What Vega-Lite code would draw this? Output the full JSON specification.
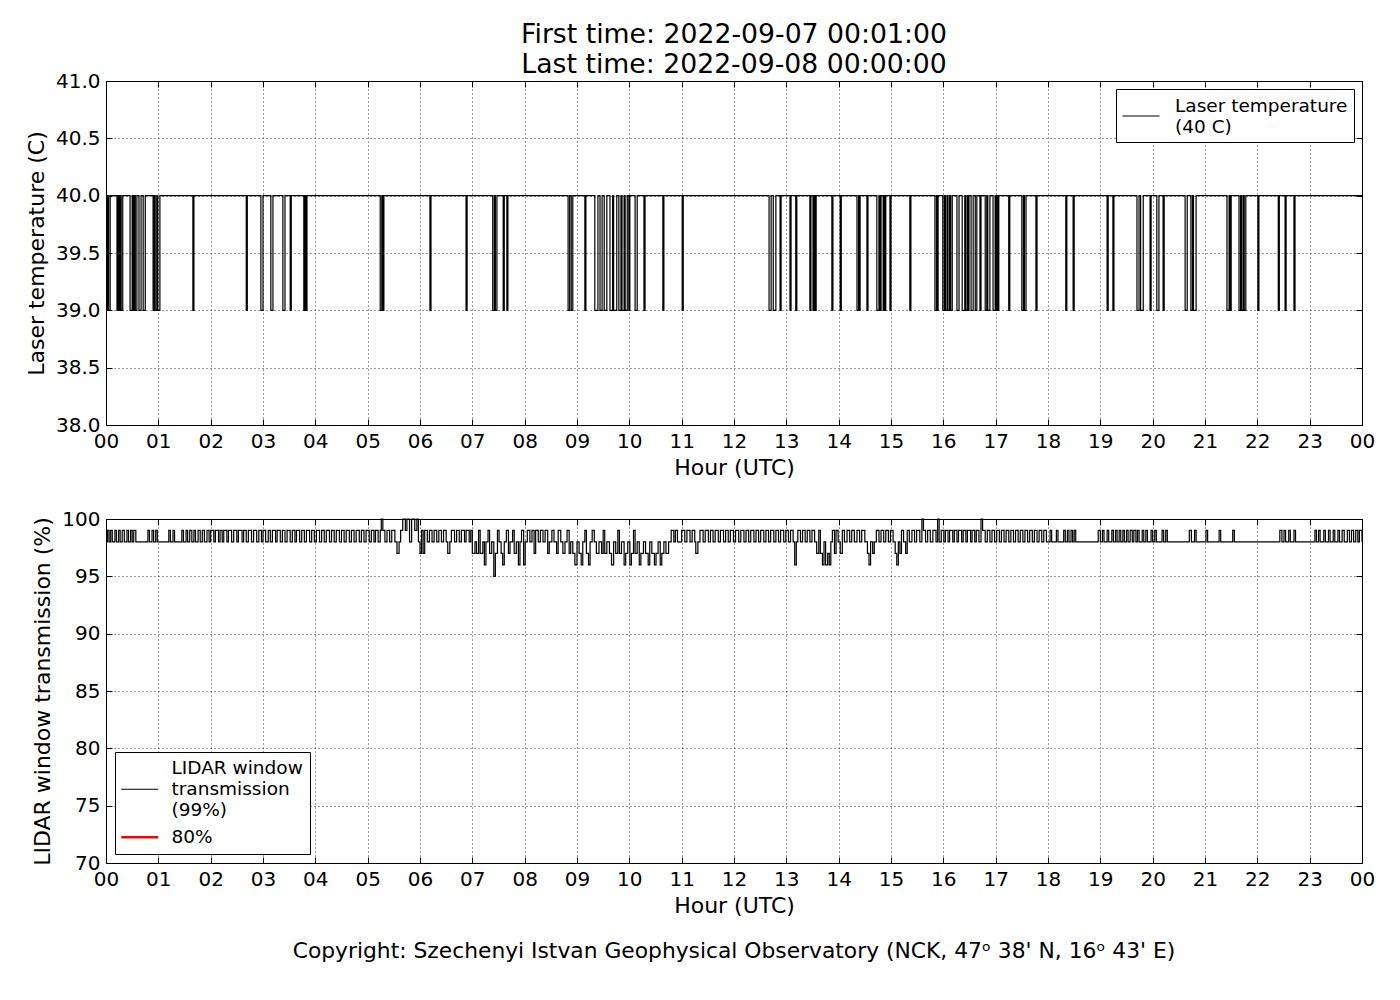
{
  "$schema": "https://vega.github.io/schema/vega-lite/v6.json",
  "description": "Laser temperature and LIDAR window transmission, 2022-09-07",
  "background": "white",
  "padding": {"left": 24, "top": 21, "right": 30, "bottom": 10},
  "config": {
    "font": "DejaVu Sans",
    "view": {"stroke": "black", "strokeWidth": 1},
    "axis": {
      "domain": false,
      "labelFontSize": 20,
      "labelColor": "black",
      "titleFontSize": 22,
      "titleFontWeight": "normal",
      "titleColor": "black",
      "tickColor": "black",
      "tickSize": -6,
      "grid": true,
      "gridColor": "black",
      "gridDash": [1, 3],
      "gridOpacity": 0.8
    },
    "legend": {
      "title": null,
      "labelFontSize": 18.5,
      "labelColor": "black",
      "labelLimit": 0,
      "symbolType": "M-1,0H2.7",
      "symbolSize": 400,
      "symbolStrokeWidth": 1,
      "strokeColor": "black",
      "fillColor": "white",
      "padding": 6,
      "cornerRadius": 0,
      "direction": "vertical"
    },
    "title": {"fontWeight": "normal", "color": "black"}
  },
  "resolve": {"scale": {"color": "independent"}, "legend": {"color": "independent"}},
  "datasets": {
    "temp": [
      {"h": 0, "v": 40},
      {"h": 0.02, "v": 39}, {"h": 0.04, "v": 40}, {"h": 0.05, "v": 39}, {"h": 0.08, "v": 40},
      {"h": 0.21, "v": 39}, {"h": 0.23, "v": 40}, {"h": 0.25, "v": 39}, {"h": 0.27, "v": 40},
      {"h": 0.29, "v": 39}, {"h": 0.32, "v": 40}, {"h": 0.46, "v": 39}, {"h": 0.50, "v": 40},
      {"h": 0.52, "v": 39}, {"h": 0.54, "v": 40}, {"h": 0.56, "v": 39}, {"h": 0.59, "v": 40},
      {"h": 0.63, "v": 39}, {"h": 0.67, "v": 40}, {"h": 0.71, "v": 39}, {"h": 0.75, "v": 40},
      {"h": 0.90, "v": 39}, {"h": 0.92, "v": 40}, {"h": 0.94, "v": 39}, {"h": 0.97, "v": 40},
      {"h": 0.99, "v": 39}, {"h": 1.03, "v": 40}, {"h": 1.66, "v": 39}, {"h": 1.68, "v": 40},
      {"h": 2.68, "v": 39}, {"h": 2.70, "v": 40}, {"h": 2.96, "v": 39}, {"h": 3.00, "v": 40},
      {"h": 3.15, "v": 39}, {"h": 3.19, "v": 40}, {"h": 3.38, "v": 39}, {"h": 3.42, "v": 40},
      {"h": 3.52, "v": 39}, {"h": 3.54, "v": 40}, {"h": 3.78, "v": 39}, {"h": 3.80, "v": 40},
      {"h": 3.82, "v": 39}, {"h": 3.84, "v": 40}, {"h": 5.24, "v": 39}, {"h": 5.27, "v": 40},
      {"h": 5.29, "v": 39}, {"h": 5.31, "v": 40}, {"h": 6.19, "v": 39}, {"h": 6.21, "v": 40},
      {"h": 6.88, "v": 39}, {"h": 6.90, "v": 40}, {"h": 7.39, "v": 39}, {"h": 7.42, "v": 40},
      {"h": 7.44, "v": 39}, {"h": 7.47, "v": 40}, {"h": 7.59, "v": 39}, {"h": 7.61, "v": 40},
      {"h": 7.66, "v": 39}, {"h": 7.68, "v": 40}, {"h": 8.83, "v": 39}, {"h": 8.86, "v": 40},
      {"h": 8.89, "v": 39}, {"h": 8.92, "v": 40}, {"h": 9.15, "v": 39}, {"h": 9.17, "v": 40},
      {"h": 9.34, "v": 39}, {"h": 9.40, "v": 40}, {"h": 9.44, "v": 39}, {"h": 9.48, "v": 40},
      {"h": 9.52, "v": 39}, {"h": 9.57, "v": 40}, {"h": 9.63, "v": 39}, {"h": 9.68, "v": 40},
      {"h": 9.70, "v": 39}, {"h": 9.76, "v": 40}, {"h": 9.80, "v": 39}, {"h": 9.84, "v": 40},
      {"h": 9.86, "v": 39}, {"h": 9.90, "v": 40}, {"h": 9.92, "v": 39}, {"h": 9.96, "v": 40},
      {"h": 9.99, "v": 39}, {"h": 10.01, "v": 40}, {"h": 10.11, "v": 39}, {"h": 10.15, "v": 40},
      {"h": 10.28, "v": 39}, {"h": 10.30, "v": 40}, {"h": 10.64, "v": 39}, {"h": 10.66, "v": 40},
      {"h": 11.01, "v": 39}, {"h": 11.03, "v": 40}, {"h": 12.67, "v": 39}, {"h": 12.71, "v": 40},
      {"h": 12.75, "v": 39}, {"h": 12.80, "v": 40}, {"h": 12.88, "v": 39}, {"h": 12.90, "v": 40},
      {"h": 13.07, "v": 39}, {"h": 13.09, "v": 40}, {"h": 13.18, "v": 39}, {"h": 13.20, "v": 40},
      {"h": 13.45, "v": 39}, {"h": 13.47, "v": 40}, {"h": 13.51, "v": 39}, {"h": 13.53, "v": 40},
      {"h": 13.55, "v": 39}, {"h": 13.57, "v": 40}, {"h": 13.87, "v": 39}, {"h": 13.89, "v": 40},
      {"h": 14.03, "v": 39}, {"h": 14.05, "v": 40}, {"h": 14.35, "v": 39}, {"h": 14.38, "v": 40},
      {"h": 14.39, "v": 39}, {"h": 14.41, "v": 40}, {"h": 14.54, "v": 39}, {"h": 14.56, "v": 40},
      {"h": 14.73, "v": 39}, {"h": 14.77, "v": 40}, {"h": 14.79, "v": 39}, {"h": 14.81, "v": 40},
      {"h": 14.85, "v": 39}, {"h": 14.87, "v": 40}, {"h": 14.88, "v": 39}, {"h": 14.90, "v": 40},
      {"h": 14.98, "v": 39}, {"h": 15.00, "v": 40}, {"h": 15.36, "v": 39}, {"h": 15.38, "v": 40},
      {"h": 15.84, "v": 39}, {"h": 15.87, "v": 40}, {"h": 15.88, "v": 39}, {"h": 15.90, "v": 40},
      {"h": 15.99, "v": 39}, {"h": 16.02, "v": 40}, {"h": 16.04, "v": 39}, {"h": 16.07, "v": 40},
      {"h": 16.09, "v": 39}, {"h": 16.12, "v": 40}, {"h": 16.14, "v": 39}, {"h": 16.17, "v": 40},
      {"h": 16.26, "v": 39}, {"h": 16.30, "v": 40}, {"h": 16.36, "v": 39}, {"h": 16.41, "v": 40},
      {"h": 16.43, "v": 39}, {"h": 16.46, "v": 40}, {"h": 16.47, "v": 39}, {"h": 16.49, "v": 40},
      {"h": 16.53, "v": 39}, {"h": 16.57, "v": 40}, {"h": 16.61, "v": 39}, {"h": 16.64, "v": 40},
      {"h": 16.70, "v": 39}, {"h": 16.72, "v": 40}, {"h": 16.80, "v": 39}, {"h": 16.83, "v": 40},
      {"h": 16.85, "v": 39}, {"h": 16.89, "v": 40}, {"h": 16.95, "v": 39}, {"h": 16.99, "v": 40},
      {"h": 17.01, "v": 39}, {"h": 17.03, "v": 40}, {"h": 17.04, "v": 39}, {"h": 17.06, "v": 40},
      {"h": 17.25, "v": 39}, {"h": 17.27, "v": 40}, {"h": 17.50, "v": 39}, {"h": 17.53, "v": 40},
      {"h": 17.55, "v": 39}, {"h": 17.58, "v": 40}, {"h": 17.77, "v": 39}, {"h": 17.79, "v": 40},
      {"h": 18.34, "v": 39}, {"h": 18.36, "v": 40}, {"h": 18.48, "v": 39}, {"h": 18.50, "v": 40},
      {"h": 19.13, "v": 39}, {"h": 19.15, "v": 40}, {"h": 19.24, "v": 39}, {"h": 19.26, "v": 40},
      {"h": 19.70, "v": 39}, {"h": 19.74, "v": 40}, {"h": 19.77, "v": 39}, {"h": 19.82, "v": 40},
      {"h": 19.95, "v": 39}, {"h": 19.97, "v": 40}, {"h": 20.08, "v": 39}, {"h": 20.12, "v": 40},
      {"h": 20.20, "v": 39}, {"h": 20.22, "v": 40}, {"h": 20.62, "v": 39}, {"h": 20.66, "v": 40},
      {"h": 20.73, "v": 39}, {"h": 20.76, "v": 40}, {"h": 20.78, "v": 39}, {"h": 20.83, "v": 40},
      {"h": 21.42, "v": 39}, {"h": 21.46, "v": 40}, {"h": 21.48, "v": 39}, {"h": 21.50, "v": 40},
      {"h": 21.65, "v": 39}, {"h": 21.68, "v": 40}, {"h": 21.70, "v": 39}, {"h": 21.73, "v": 40},
      {"h": 21.75, "v": 39}, {"h": 21.78, "v": 40}, {"h": 22.01, "v": 39}, {"h": 22.03, "v": 40},
      {"h": 22.40, "v": 39}, {"h": 22.42, "v": 40}, {"h": 22.53, "v": 39}, {"h": 22.55, "v": 40},
      {"h": 22.70, "v": 39}, {"h": 22.72, "v": 40}, {"h": 24, "v": 40}
    ],
    "lidar": [
      {"h": 0, "v": 98}, {"h": 0.03, "v": 99}, {"h": 0.06, "v": 98}, {"h": 0.09, "v": 99}, {"h": 0.12, "v": 98},
      {"h": 0.17, "v": 99}, {"h": 0.20, "v": 98}, {"h": 0.24, "v": 99}, {"h": 0.27, "v": 98}, {"h": 0.31, "v": 99},
      {"h": 0.35, "v": 98}, {"h": 0.40, "v": 99}, {"h": 0.43, "v": 98}, {"h": 0.47, "v": 99}, {"h": 0.50, "v": 98},
      {"h": 0.53, "v": 99}, {"h": 0.57, "v": 98}, {"h": 0.80, "v": 99}, {"h": 0.83, "v": 98}, {"h": 0.88, "v": 99},
      {"h": 0.91, "v": 98}, {"h": 0.95, "v": 99}, {"h": 0.98, "v": 98}, {"h": 1.20, "v": 99}, {"h": 1.23, "v": 98},
      {"h": 1.28, "v": 99}, {"h": 1.31, "v": 98}, {"h": 1.45, "v": 99}, {"h": 1.48, "v": 98}, {"h": 1.53, "v": 99},
      {"h": 1.56, "v": 98}, {"h": 1.60, "v": 99}, {"h": 1.64, "v": 98}, {"h": 1.68, "v": 99}, {"h": 1.71, "v": 98},
      {"h": 1.76, "v": 99}, {"h": 1.80, "v": 98}, {"h": 1.84, "v": 99}, {"h": 1.88, "v": 98}, {"h": 1.93, "v": 99},
      {"h": 1.97, "v": 98}, {"h": 2.00, "v": 99}, {"h": 2.06, "v": 98}, {"h": 2.09, "v": 99}, {"h": 2.15, "v": 98},
      {"h": 2.18, "v": 99}, {"h": 2.22, "v": 98}, {"h": 2.25, "v": 99}, {"h": 2.31, "v": 98}, {"h": 2.34, "v": 99},
      {"h": 2.40, "v": 98}, {"h": 2.44, "v": 99}, {"h": 2.50, "v": 98}, {"h": 2.53, "v": 99}, {"h": 2.60, "v": 98},
      {"h": 2.63, "v": 99}, {"h": 2.68, "v": 98}, {"h": 2.72, "v": 99}, {"h": 2.78, "v": 98}, {"h": 2.82, "v": 99},
      {"h": 2.88, "v": 98}, {"h": 2.92, "v": 99}, {"h": 2.97, "v": 98}, {"h": 3.00, "v": 99}, {"h": 3.05, "v": 98},
      {"h": 3.10, "v": 99}, {"h": 3.14, "v": 98}, {"h": 3.18, "v": 99}, {"h": 3.24, "v": 98}, {"h": 3.27, "v": 99},
      {"h": 3.33, "v": 98}, {"h": 3.37, "v": 99}, {"h": 3.42, "v": 98}, {"h": 3.46, "v": 99}, {"h": 3.52, "v": 98},
      {"h": 3.56, "v": 99}, {"h": 3.61, "v": 98}, {"h": 3.64, "v": 99}, {"h": 3.70, "v": 98}, {"h": 3.74, "v": 99},
      {"h": 3.79, "v": 98}, {"h": 3.83, "v": 99}, {"h": 3.89, "v": 98}, {"h": 3.93, "v": 99}, {"h": 3.98, "v": 98},
      {"h": 4.02, "v": 99}, {"h": 4.08, "v": 98}, {"h": 4.12, "v": 99}, {"h": 4.17, "v": 98}, {"h": 4.21, "v": 99},
      {"h": 4.27, "v": 98}, {"h": 4.31, "v": 99}, {"h": 4.36, "v": 98}, {"h": 4.40, "v": 99}, {"h": 4.46, "v": 98},
      {"h": 4.50, "v": 99}, {"h": 4.55, "v": 98}, {"h": 4.59, "v": 99}, {"h": 4.65, "v": 98}, {"h": 4.69, "v": 99},
      {"h": 4.74, "v": 98}, {"h": 4.78, "v": 99}, {"h": 4.84, "v": 98}, {"h": 4.88, "v": 99}, {"h": 4.93, "v": 98},
      {"h": 4.97, "v": 99}, {"h": 5.03, "v": 98}, {"h": 5.07, "v": 99}, {"h": 5.12, "v": 98}, {"h": 5.15, "v": 99},
      {"h": 5.20, "v": 98}, {"h": 5.24, "v": 99}, {"h": 5.26, "v": 100}, {"h": 5.29, "v": 99}, {"h": 5.33, "v": 98},
      {"h": 5.37, "v": 99}, {"h": 5.42, "v": 98}, {"h": 5.46, "v": 99}, {"h": 5.52, "v": 98}, {"h": 5.56, "v": 97},
      {"h": 5.60, "v": 98}, {"h": 5.63, "v": 99}, {"h": 5.67, "v": 100}, {"h": 5.72, "v": 99}, {"h": 5.75, "v": 100},
      {"h": 5.80, "v": 98}, {"h": 5.84, "v": 100}, {"h": 5.90, "v": 99}, {"h": 5.94, "v": 100}, {"h": 5.97, "v": 98},
      {"h": 6.00, "v": 97}, {"h": 6.03, "v": 99}, {"h": 6.06, "v": 97}, {"h": 6.09, "v": 99}, {"h": 6.14, "v": 98},
      {"h": 6.18, "v": 99}, {"h": 6.23, "v": 98}, {"h": 6.27, "v": 99}, {"h": 6.32, "v": 98}, {"h": 6.36, "v": 99},
      {"h": 6.41, "v": 98}, {"h": 6.45, "v": 99}, {"h": 6.50, "v": 98}, {"h": 6.53, "v": 97}, {"h": 6.57, "v": 98},
      {"h": 6.60, "v": 99}, {"h": 6.66, "v": 98}, {"h": 6.70, "v": 99}, {"h": 6.75, "v": 98}, {"h": 6.79, "v": 99},
      {"h": 6.85, "v": 98}, {"h": 6.88, "v": 99}, {"h": 6.94, "v": 98}, {"h": 6.97, "v": 99}, {"h": 7.00, "v": 97},
      {"h": 7.05, "v": 98}, {"h": 7.08, "v": 97}, {"h": 7.12, "v": 99}, {"h": 7.15, "v": 97}, {"h": 7.20, "v": 98},
      {"h": 7.23, "v": 96}, {"h": 7.26, "v": 98}, {"h": 7.30, "v": 99}, {"h": 7.33, "v": 97}, {"h": 7.37, "v": 98},
      {"h": 7.41, "v": 95}, {"h": 7.44, "v": 97}, {"h": 7.48, "v": 99}, {"h": 7.51, "v": 98}, {"h": 7.55, "v": 97},
      {"h": 7.58, "v": 96}, {"h": 7.61, "v": 98}, {"h": 7.65, "v": 99}, {"h": 7.69, "v": 97}, {"h": 7.72, "v": 98},
      {"h": 7.77, "v": 99}, {"h": 7.80, "v": 97}, {"h": 7.84, "v": 98}, {"h": 7.88, "v": 96}, {"h": 7.91, "v": 98},
      {"h": 7.94, "v": 99}, {"h": 7.98, "v": 96}, {"h": 8.01, "v": 98}, {"h": 8.05, "v": 99}, {"h": 8.10, "v": 98},
      {"h": 8.14, "v": 99}, {"h": 8.18, "v": 97}, {"h": 8.21, "v": 99}, {"h": 8.26, "v": 98}, {"h": 8.30, "v": 99},
      {"h": 8.35, "v": 98}, {"h": 8.39, "v": 99}, {"h": 8.44, "v": 97}, {"h": 8.47, "v": 98}, {"h": 8.52, "v": 99},
      {"h": 8.56, "v": 98}, {"h": 8.61, "v": 97}, {"h": 8.64, "v": 99}, {"h": 8.69, "v": 98}, {"h": 8.73, "v": 97},
      {"h": 8.77, "v": 98}, {"h": 8.81, "v": 99}, {"h": 8.85, "v": 97}, {"h": 8.88, "v": 98}, {"h": 8.92, "v": 97},
      {"h": 8.96, "v": 96}, {"h": 9.00, "v": 98}, {"h": 9.04, "v": 97}, {"h": 9.08, "v": 96}, {"h": 9.11, "v": 98},
      {"h": 9.15, "v": 99}, {"h": 9.18, "v": 97}, {"h": 9.22, "v": 96}, {"h": 9.25, "v": 98}, {"h": 9.29, "v": 99},
      {"h": 9.33, "v": 98}, {"h": 9.37, "v": 97}, {"h": 9.42, "v": 98}, {"h": 9.47, "v": 97}, {"h": 9.50, "v": 99},
      {"h": 9.53, "v": 97}, {"h": 9.57, "v": 98}, {"h": 9.62, "v": 97}, {"h": 9.66, "v": 96}, {"h": 9.70, "v": 98},
      {"h": 9.74, "v": 97}, {"h": 9.78, "v": 99}, {"h": 9.81, "v": 97}, {"h": 9.85, "v": 98}, {"h": 9.90, "v": 96},
      {"h": 9.93, "v": 97}, {"h": 9.97, "v": 98}, {"h": 10.01, "v": 96}, {"h": 10.04, "v": 97}, {"h": 10.08, "v": 99},
      {"h": 10.11, "v": 97}, {"h": 10.15, "v": 98}, {"h": 10.19, "v": 96}, {"h": 10.22, "v": 97}, {"h": 10.27, "v": 98},
      {"h": 10.31, "v": 97}, {"h": 10.36, "v": 96}, {"h": 10.39, "v": 98}, {"h": 10.43, "v": 97}, {"h": 10.48, "v": 96},
      {"h": 10.51, "v": 97}, {"h": 10.55, "v": 98}, {"h": 10.59, "v": 96}, {"h": 10.62, "v": 97}, {"h": 10.66, "v": 98},
      {"h": 10.70, "v": 97}, {"h": 10.75, "v": 98}, {"h": 10.80, "v": 99}, {"h": 10.85, "v": 98}, {"h": 10.88, "v": 99},
      {"h": 10.92, "v": 98}, {"h": 11.00, "v": 99}, {"h": 11.06, "v": 98}, {"h": 11.10, "v": 99}, {"h": 11.16, "v": 98},
      {"h": 11.20, "v": 99}, {"h": 11.25, "v": 98}, {"h": 11.27, "v": 97}, {"h": 11.31, "v": 98}, {"h": 11.35, "v": 99},
      {"h": 11.41, "v": 98}, {"h": 11.45, "v": 99}, {"h": 11.51, "v": 98}, {"h": 11.55, "v": 99}, {"h": 11.60, "v": 98},
      {"h": 11.64, "v": 99}, {"h": 11.70, "v": 98}, {"h": 11.74, "v": 99}, {"h": 11.80, "v": 98}, {"h": 11.84, "v": 99},
      {"h": 11.89, "v": 98}, {"h": 11.93, "v": 99}, {"h": 11.99, "v": 98}, {"h": 12.03, "v": 99}, {"h": 12.09, "v": 98},
      {"h": 12.13, "v": 99}, {"h": 12.19, "v": 98}, {"h": 12.23, "v": 99}, {"h": 12.28, "v": 98}, {"h": 12.32, "v": 99},
      {"h": 12.38, "v": 98}, {"h": 12.42, "v": 99}, {"h": 12.47, "v": 98}, {"h": 12.51, "v": 99}, {"h": 12.57, "v": 98},
      {"h": 12.61, "v": 99}, {"h": 12.66, "v": 98}, {"h": 12.70, "v": 99}, {"h": 12.76, "v": 98}, {"h": 12.80, "v": 99},
      {"h": 12.85, "v": 98}, {"h": 12.89, "v": 99}, {"h": 12.95, "v": 98}, {"h": 12.99, "v": 99}, {"h": 13.04, "v": 98},
      {"h": 13.08, "v": 99}, {"h": 13.13, "v": 98}, {"h": 13.16, "v": 96}, {"h": 13.19, "v": 98}, {"h": 13.22, "v": 99},
      {"h": 13.27, "v": 98}, {"h": 13.31, "v": 99}, {"h": 13.36, "v": 98}, {"h": 13.40, "v": 99}, {"h": 13.45, "v": 98},
      {"h": 13.49, "v": 99}, {"h": 13.54, "v": 98}, {"h": 13.58, "v": 97}, {"h": 13.62, "v": 99}, {"h": 13.65, "v": 97},
      {"h": 13.69, "v": 96}, {"h": 13.72, "v": 98}, {"h": 13.75, "v": 96}, {"h": 13.79, "v": 97}, {"h": 13.82, "v": 96},
      {"h": 13.85, "v": 98}, {"h": 13.88, "v": 99}, {"h": 13.92, "v": 97}, {"h": 13.95, "v": 99}, {"h": 13.99, "v": 98},
      {"h": 14.03, "v": 97}, {"h": 14.07, "v": 99}, {"h": 14.11, "v": 98}, {"h": 14.16, "v": 99}, {"h": 14.21, "v": 98},
      {"h": 14.25, "v": 99}, {"h": 14.30, "v": 98}, {"h": 14.35, "v": 99}, {"h": 14.40, "v": 98}, {"h": 14.44, "v": 99},
      {"h": 14.50, "v": 98}, {"h": 14.55, "v": 97}, {"h": 14.58, "v": 96}, {"h": 14.61, "v": 98}, {"h": 14.65, "v": 97},
      {"h": 14.68, "v": 98}, {"h": 14.72, "v": 99}, {"h": 14.77, "v": 98}, {"h": 14.81, "v": 99}, {"h": 14.86, "v": 98},
      {"h": 14.90, "v": 99}, {"h": 14.95, "v": 98}, {"h": 14.99, "v": 99}, {"h": 15.04, "v": 98}, {"h": 15.08, "v": 97},
      {"h": 15.11, "v": 96}, {"h": 15.14, "v": 98}, {"h": 15.17, "v": 97}, {"h": 15.20, "v": 99}, {"h": 15.24, "v": 98},
      {"h": 15.28, "v": 97}, {"h": 15.31, "v": 99}, {"h": 15.35, "v": 98}, {"h": 15.40, "v": 99}, {"h": 15.45, "v": 98},
      {"h": 15.49, "v": 99}, {"h": 15.55, "v": 98}, {"h": 15.59, "v": 100}, {"h": 15.62, "v": 99}, {"h": 15.66, "v": 98},
      {"h": 15.70, "v": 99}, {"h": 15.75, "v": 98}, {"h": 15.80, "v": 99}, {"h": 15.86, "v": 98}, {"h": 15.89, "v": 100},
      {"h": 15.92, "v": 98}, {"h": 15.96, "v": 99}, {"h": 16.01, "v": 98}, {"h": 16.04, "v": 99}, {"h": 16.09, "v": 98},
      {"h": 16.12, "v": 99}, {"h": 16.18, "v": 98}, {"h": 16.21, "v": 99}, {"h": 16.26, "v": 98}, {"h": 16.29, "v": 99},
      {"h": 16.35, "v": 98}, {"h": 16.38, "v": 99}, {"h": 16.43, "v": 98}, {"h": 16.46, "v": 99}, {"h": 16.52, "v": 98},
      {"h": 16.55, "v": 99}, {"h": 16.60, "v": 98}, {"h": 16.63, "v": 99}, {"h": 16.68, "v": 98}, {"h": 16.72, "v": 100},
      {"h": 16.75, "v": 99}, {"h": 16.80, "v": 98}, {"h": 16.84, "v": 99}, {"h": 16.89, "v": 98}, {"h": 16.93, "v": 99},
      {"h": 16.98, "v": 98}, {"h": 17.02, "v": 99}, {"h": 17.07, "v": 98}, {"h": 17.11, "v": 99}, {"h": 17.16, "v": 98},
      {"h": 17.20, "v": 99}, {"h": 17.25, "v": 98}, {"h": 17.29, "v": 99}, {"h": 17.34, "v": 98}, {"h": 17.38, "v": 99},
      {"h": 17.43, "v": 98}, {"h": 17.47, "v": 99}, {"h": 17.52, "v": 98}, {"h": 17.56, "v": 99}, {"h": 17.61, "v": 98},
      {"h": 17.65, "v": 99}, {"h": 17.70, "v": 98}, {"h": 17.74, "v": 99}, {"h": 17.79, "v": 98}, {"h": 17.83, "v": 99},
      {"h": 17.88, "v": 98}, {"h": 17.92, "v": 99}, {"h": 17.97, "v": 98}, {"h": 18.04, "v": 99}, {"h": 18.07, "v": 98},
      {"h": 18.16, "v": 99}, {"h": 18.19, "v": 98}, {"h": 18.30, "v": 99}, {"h": 18.33, "v": 98}, {"h": 18.37, "v": 99},
      {"h": 18.40, "v": 98}, {"h": 18.44, "v": 99}, {"h": 18.47, "v": 98}, {"h": 18.50, "v": 99}, {"h": 18.53, "v": 98},
      {"h": 18.96, "v": 99}, {"h": 19.00, "v": 98}, {"h": 19.04, "v": 99}, {"h": 19.07, "v": 98}, {"h": 19.13, "v": 99},
      {"h": 19.16, "v": 98}, {"h": 19.22, "v": 99}, {"h": 19.25, "v": 98}, {"h": 19.29, "v": 99}, {"h": 19.32, "v": 98},
      {"h": 19.36, "v": 99}, {"h": 19.39, "v": 98}, {"h": 19.43, "v": 99}, {"h": 19.46, "v": 98}, {"h": 19.50, "v": 99},
      {"h": 19.53, "v": 98}, {"h": 19.57, "v": 99}, {"h": 19.61, "v": 98}, {"h": 19.64, "v": 99}, {"h": 19.68, "v": 98},
      {"h": 19.71, "v": 99}, {"h": 19.74, "v": 98}, {"h": 19.80, "v": 99}, {"h": 19.83, "v": 98}, {"h": 19.87, "v": 99},
      {"h": 19.90, "v": 98}, {"h": 19.97, "v": 99}, {"h": 20.00, "v": 98}, {"h": 20.04, "v": 99}, {"h": 20.07, "v": 98},
      {"h": 20.18, "v": 99}, {"h": 20.21, "v": 98}, {"h": 20.25, "v": 99}, {"h": 20.28, "v": 98}, {"h": 20.70, "v": 99},
      {"h": 20.74, "v": 98}, {"h": 20.80, "v": 99}, {"h": 20.83, "v": 98}, {"h": 21.02, "v": 99}, {"h": 21.05, "v": 98},
      {"h": 21.27, "v": 99}, {"h": 21.30, "v": 98}, {"h": 21.53, "v": 99}, {"h": 21.56, "v": 98}, {"h": 22.43, "v": 99},
      {"h": 22.47, "v": 98}, {"h": 22.51, "v": 99}, {"h": 22.54, "v": 98}, {"h": 22.60, "v": 99}, {"h": 22.63, "v": 98},
      {"h": 22.70, "v": 99}, {"h": 22.73, "v": 98}, {"h": 23.10, "v": 99}, {"h": 23.13, "v": 98}, {"h": 23.17, "v": 99},
      {"h": 23.20, "v": 98}, {"h": 23.27, "v": 99}, {"h": 23.30, "v": 98}, {"h": 23.36, "v": 99}, {"h": 23.39, "v": 98},
      {"h": 23.45, "v": 99}, {"h": 23.48, "v": 98}, {"h": 23.54, "v": 99}, {"h": 23.57, "v": 98}, {"h": 23.62, "v": 99},
      {"h": 23.66, "v": 98}, {"h": 23.72, "v": 99}, {"h": 23.76, "v": 98}, {"h": 23.80, "v": 99}, {"h": 23.84, "v": 98},
      {"h": 23.88, "v": 99}, {"h": 23.92, "v": 98}, {"h": 23.95, "v": 99}, {"h": 24.00, "v": 98}
    ]
  },
  "vconcat": [
    {
      "width": 1256,
      "height": 344,
      "title": {
        "text": ["First time: 2022-09-07 00:01:00", "Last time: 2022-09-08 00:00:00"],
        "fontSize": 26.7,
        "lineHeight": 30,
        "anchor": "middle",
        "frame": "group",
        "offset": -8
      },
      "layer": [
        {
          "data": {"name": "temp"},
          "mark": {"type": "line", "interpolate": "step-after", "strokeWidth": 1.2},
          "encoding": {
            "x": {
              "field": "h",
              "type": "quantitative",
              "scale": {"domain": [0, 24], "nice": false},
              "axis": {
                "title": "Hour (UTC)",
                "values": [0, 1, 2, 3, 4, 5, 6, 7, 8, 9, 10, 11, 12, 13, 14, 15, 16, 17, 18, 19, 20, 21, 22, 23, 24],
                "labelExpr": "slice('0' + (datum.value % 24), -2)",
                "labelFlush": false,
                "labelOverlap": false,
                "labelPadding": 12,
                "titlePadding": 6
              }
            },
            "y": {
              "field": "v",
              "type": "quantitative",
              "scale": {"domain": [38, 41], "nice": false, "zero": false},
              "axis": {
                "title": "Laser temperature (C)",
                "values": [38, 38.5, 39, 39.5, 40, 40.5, 41],
                "format": ".1f",
                "labelPadding": 12,
                "titlePadding": 7
              }
            },
            "color": {
              "datum": "Laser temperature (40 C)",
              "scale": {"domain": ["Laser temperature (40 C)"], "range": ["black"]},
              "legend": {
                "orient": "top-right",
                "offset": 8,
                "padding": 6,
                "symbolSize": 400,
                "symbolType": "M-1,1.05H2.7",
                "labelOffset": 32,
                "labelExpr": "['Laser temperature', '(40 C)']",
                "encode": {"labels": {"update": {"lineHeight": {"value": 21}}}}
              }
            }
          }
        },
        {
          "data": {"values": [{}]},
          "mark": {"type": "point", "opacity": 0},
          "encoding": {
            "x": {
              "datum": 0,
              "type": "quantitative",
              "axis": {"orient": "top", "labels": false, "grid": false, "title": null,
                       "values": [0, 1, 2, 3, 4, 5, 6, 7, 8, 9, 10, 11, 12, 13, 14, 15, 16, 17, 18, 19, 20, 21, 22, 23, 24]}
            },
            "y": {
              "datum": 40,
              "type": "quantitative",
              "axis": {"orient": "right", "labels": false, "grid": false, "title": null,
                       "values": [38, 38.5, 39, 39.5, 40, 40.5, 41]}
            }
          }
        }
      ],
      "resolve": {"axis": {"x": "independent", "y": "independent"}}
    },
    {
      "width": 1256,
      "height": 344,
      "title": {
        "text": "Copyright: Szechenyi Istvan Geophysical Observatory (NCK, 47ᵒ  38' N, 16ᵒ  43' E)",
        "orient": "bottom",
        "fontSize": 21.8,
        "anchor": "middle",
        "frame": "group",
        "offset": 25
      },
      "layer": [
        {
          "data": {"name": "lidar"},
          "mark": {"type": "line", "interpolate": "step-after", "strokeWidth": 1.2},
          "encoding": {
            "x": {
              "field": "h",
              "type": "quantitative",
              "scale": {"domain": [0, 24], "nice": false},
              "axis": {
                "title": "Hour (UTC)",
                "values": [0, 1, 2, 3, 4, 5, 6, 7, 8, 9, 10, 11, 12, 13, 14, 15, 16, 17, 18, 19, 20, 21, 22, 23, 24],
                "labelExpr": "slice('0' + (datum.value % 24), -2)",
                "labelFlush": false,
                "labelOverlap": false,
                "labelPadding": 12,
                "titlePadding": 6
              }
            },
            "y": {
              "field": "v",
              "type": "quantitative",
              "scale": {"domain": [70, 100], "nice": false, "zero": false},
              "axis": {
                "title": "LIDAR window transmission (%)",
                "values": [70, 75, 80, 85, 90, 95, 100],
                "format": "d",
                "labelPadding": 12,
                "titlePadding": 7
              }
            },
            "color": {
              "datum": "LIDAR window transmission (99%)",
              "scale": {"domain": ["LIDAR window transmission (99%)", "80%"], "range": ["black", "#ff0000"]},
              "legend": {
                "orient": "bottom-left",
                "offset": 9,
                "padding": 7,
                "symbolSize": 400,
                "labelOffset": 31,
                "rowPadding": 8,
                "labelExpr": "datum.label == '80%' ? '80%' : ['LIDAR window', 'transmission', '(99%)']",
                "encode": {
                  "labels": {"update": {"lineHeight": {"value": 21}}},
                  "symbols": {"update": {
                    "strokeWidth": {"signal": "datum.label == '80%' ? 2.5 : 1"},
                    "shape": {"signal": "datum.label == '80%' ? 'M-1,0H2.7' : 'M-1,2.1H2.7'"}
                  }}
                }
              }
            }
          }
        },
        {
          "mark": {"type": "rule", "strokeWidth": 2},
          "encoding": {
            "y": {"datum": 80, "type": "quantitative", "axis": null},
            "color": {"datum": "80%"}
          }
        },
        {
          "data": {"values": [{}]},
          "mark": {"type": "point", "opacity": 0},
          "encoding": {
            "x": {
              "datum": 0,
              "type": "quantitative",
              "axis": {"orient": "top", "labels": false, "grid": false, "title": null,
                       "values": [0, 1, 2, 3, 4, 5, 6, 7, 8, 9, 10, 11, 12, 13, 14, 15, 16, 17, 18, 19, 20, 21, 22, 23, 24]}
            },
            "y": {
              "datum": 80,
              "type": "quantitative",
              "axis": {"orient": "right", "labels": false, "grid": false, "title": null,
                       "values": [70, 75, 80, 85, 90, 95, 100]}
            }
          }
        }
      ],
      "resolve": {"axis": {"x": "independent", "y": "independent"}}
    }
  ],
  "spacing": 29
}
